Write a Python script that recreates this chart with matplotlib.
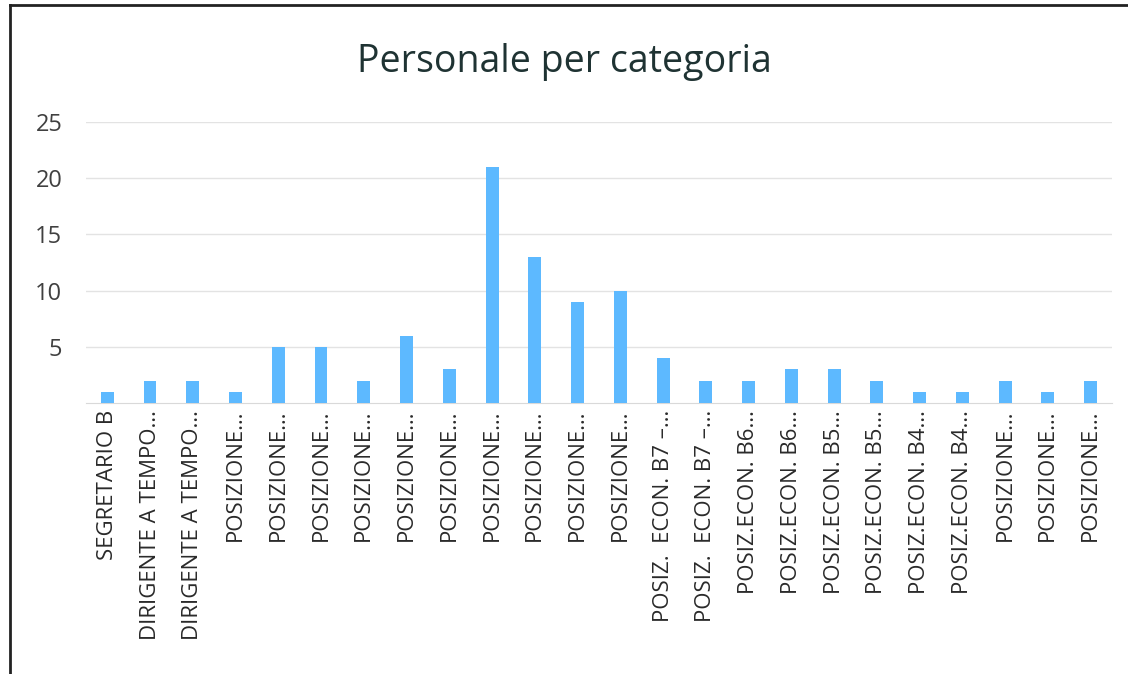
import matplotlib.pyplot as plt
from matplotlib.lines import Line2D

plt.rcParams['font.family'] = ['Open Sans', 'DejaVu Sans']

# Data
categorie = [
    'SEGRETARIO B', 'DIRIGENTE A TEMPO…', 'DIRIGENTE A TEMPO…', 'POSIZIONE…',
    'POSIZIONE…', 'POSIZIONE…', 'POSIZIONE…', 'POSIZIONE…', 'POSIZIONE…',
    'POSIZIONE…', 'POSIZIONE…', 'POSIZIONE…', 'POSIZIONE…',
    'POSIZ.  ECON. B7 –…', 'POSIZ.  ECON. B7 –…', 'POSIZ.ECON. B6…',
    'POSIZ.ECON. B6…', 'POSIZ.ECON. B5…', 'POSIZ.ECON. B5…',
    'POSIZ.ECON. B4…', 'POSIZ.ECON. B4…', 'POSIZIONE…', 'POSIZIONE…',
    'POSIZIONE…',
]
personale = [1, 2, 2, 1, 5, 5, 2, 6, 3, 21, 13, 9, 10, 4, 2, 2, 3, 3, 2, 1, 1, 2, 1, 2]
y_ticks = [5, 10, 15, 20, 25]

text_color = '#404040'

fig = plt.figure(figsize=(11.28, 6.74), dpi=100)
fig.patch.set_facecolor('white')
ax = fig.add_axes([0.0762, 0.402, 0.9096, 0.417])

x = list(range(len(categorie)))
ax.bar(x, personale, width=0.3, color='#5DB9FF', zorder=3)

ax.set_xlim(-0.5, len(categorie) - 0.5)
ax.set_ylim(0, 25)
ax.set_yticks(y_ticks)
ax.set_xticks(x)
ax.set_xticklabels(categorie, rotation=90, va='top', ha='center')

ax.tick_params(axis='y', length=0, pad=17, labelsize=17, labelcolor=text_color)
ax.tick_params(axis='x', length=0, pad=5, labelsize=16, labelcolor='#2a2a2a')

ax.grid(axis='y', color='#e3e3e3', linewidth=1, zorder=0)
for side in ['top', 'right', 'left']:
    ax.spines[side].set_visible(False)
ax.spines['bottom'].set_color('#d9d9d9')

fig.text(0.5, 0.908, 'Personale per categoria', ha='center', va='center',
         fontsize=27, color='#1f3333')

# Screenshot frame lines (left and top)
fig.add_artist(Line2D([0.009, 0.009], [0, 0.993], transform=fig.transFigure,
                      color='#222222', linewidth=2))
fig.add_artist(Line2D([0.009, 1], [0.993, 0.993], transform=fig.transFigure,
                      color='#222222', linewidth=2))

fig.savefig('out.png', dpi=100, facecolor='white')
